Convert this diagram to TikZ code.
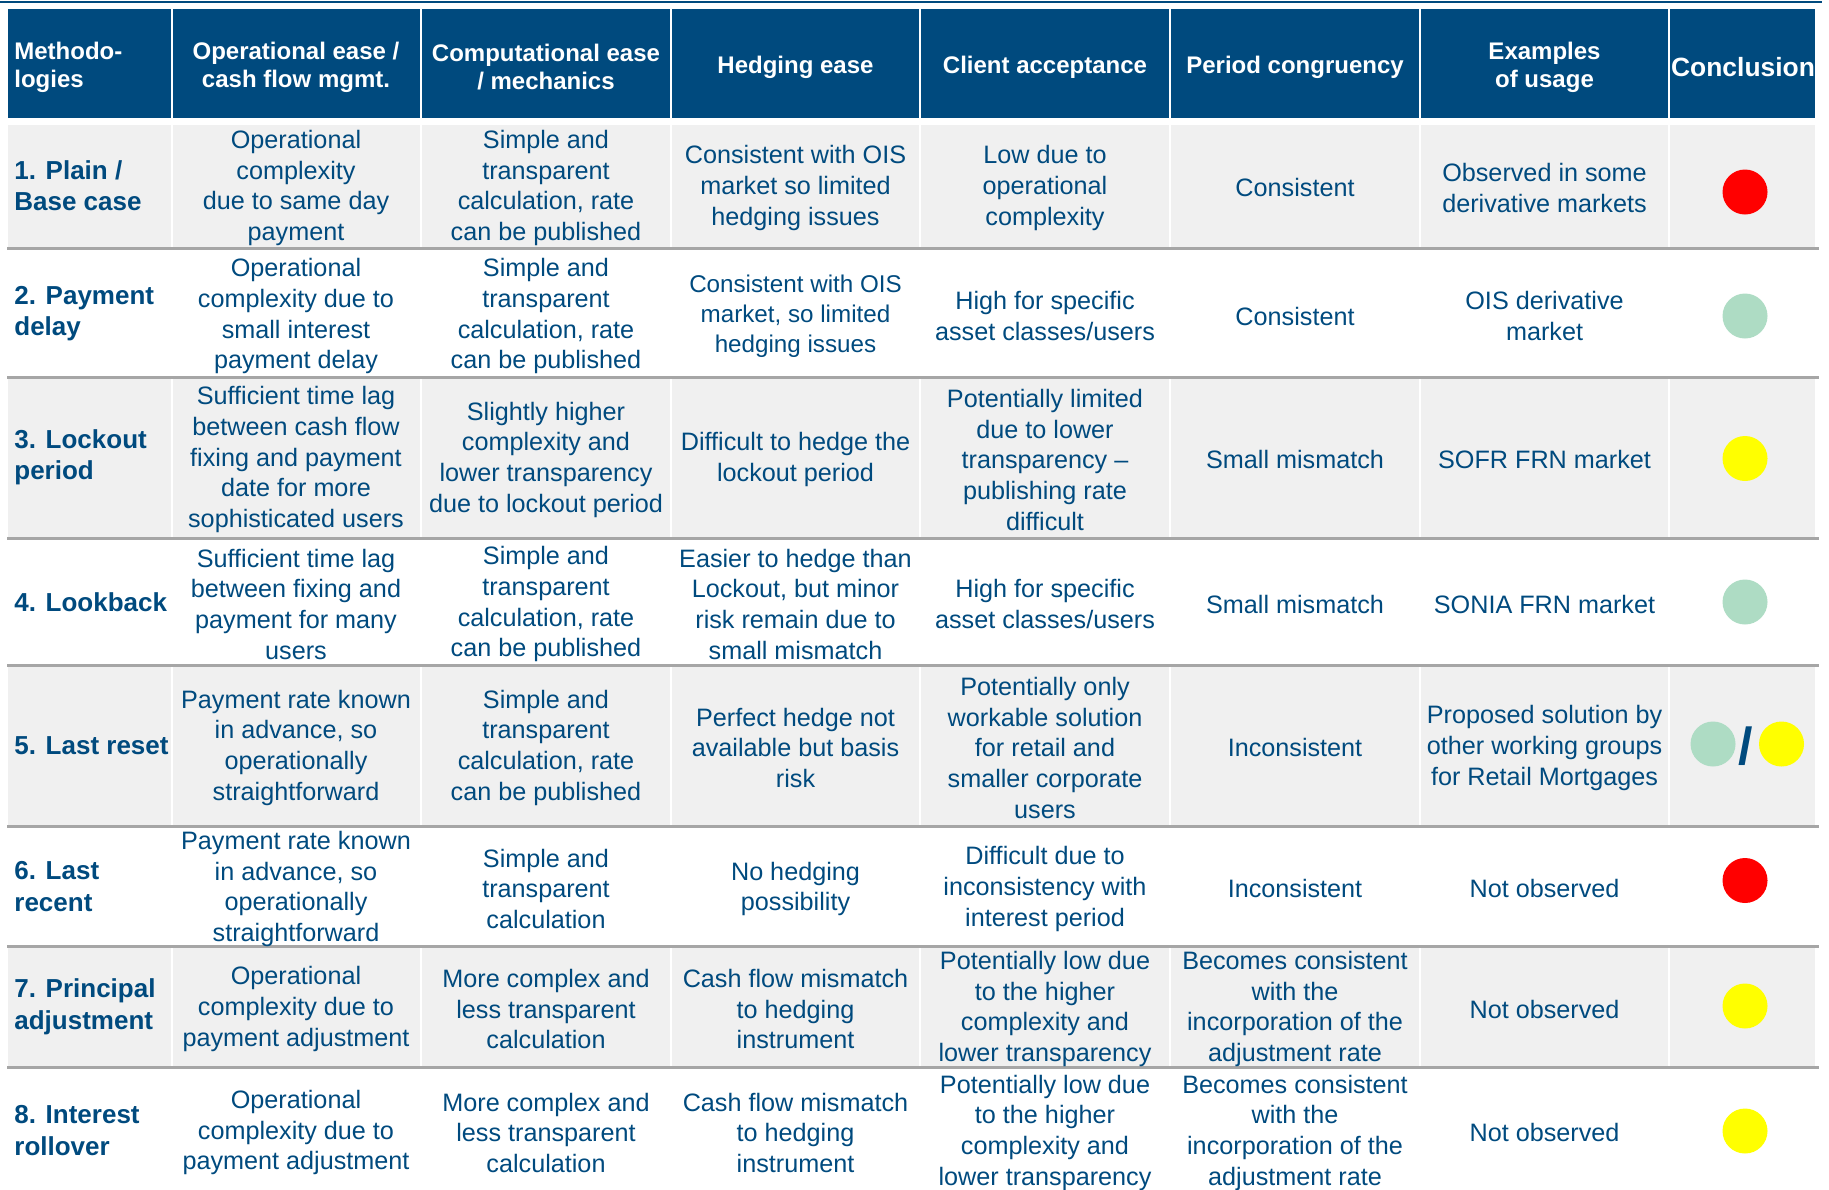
\documentclass[tikz,border=0pt]{standalone}
\usepackage{fontspec}
\setmainfont{Liberation Sans}
\definecolor{tblue}{RGB}{0,74,126}
\definecolor{rowgray}{RGB}{240,240,240}
\definecolor{rulegray}{RGB}{166,166,166}
\definecolor{dotgreen}{RGB}{174,220,196}
\definecolor{dotyellow}{RGB}{255,255,0}
\definecolor{dotred}{RGB}{255,0,0}

\begin{document}
\begin{tikzpicture}[x=0.5pt,y=-0.5pt,
   hdr/.style={text=white,font=\fontsize{12}{14}\selectfont\bfseries,align=center,inner sep=0pt,yshift=-1.7pt},
   cell/.style={text=tblue,font=\fontsize{12.6}{15.35}\selectfont,align=center,inner sep=0pt,yshift=-1.2pt},
   meth/.style={text=tblue,font=\fontsize{13}{15.75}\selectfont\bfseries,align=left,anchor=west,inner sep=0pt},
   dot/.style={circle,minimum size=22.5pt,inner sep=0pt}]
\useasboundingbox (0,0) rectangle (1829,1189);
% top rule and header boxes
\draw[tblue,line width=1pt] (0,2) -- (1822,2);
\foreach \xa/\xb in {7/171.5,171.5/421,421/671,671/920,920/1170,1170/1420,1420/1669,1669/1816}
  \fill[tblue] (\xa+1,9) rectangle (\xb-1,118);
% shaded rows
\foreach \ya/\yb in {125/248.5,377/538,665/826,946/1067}
  \foreach \xa/\xb in {7/171.5,171.5/421,421/671,671/920,920/1170,1170/1420,1420/1669,1669/1816}
    \fill[rowgray] (\xa+1,\ya) rectangle (\xb-1,\yb);
\foreach \y in {248.5,377,538,665,826,946,1067}
  \draw[rulegray,line width=1.5pt] (7,\y) -- (1819,\y);

% header
\node[hdr,align=left,anchor=west] (hmeth) at (14,64) {Methodo-\\logies};
\node[hdr] (hops) at (296,64) {Operational ease /\\cash flow mgmt.};
\node[hdr] (hcomp) at (546,64) {Computational ease\\/ mechanics};
\node[hdr] (hhedge) at (795.5,64) {Hedging ease};
\node[hdr] (hclient) at (1045,64) {Client acceptance};
\node[hdr] (hperiod) at (1295,64) {Period congruency};
\node[hdr] (husage) at (1544.5,64) {Examples\\of usage};
\node[hdr,font=\fontsize{13.2}{15}\selectfont\bfseries] (hconcl) at (1743,64) {Conclusion};

% 1. plain
\node[meth] (m1) at (14,185.5) {1. Plain /\\Base case};
\node[cell] (ops1) at (296,185.5) {Operational\\complexity\\due to same day\\payment};
\node[cell] (comp1) at (546,185.5) {Simple and\\transparent\\calculation, rate\\can be published};
\node[cell] (hedge1) at (795.5,185.5) {Consistent with OIS\\market so limited\\hedging issues};
\node[cell] (client1) at (1045,185.5) {Low due to\\operational\\complexity};
\node[cell] (period1) at (1295,185.5) {Consistent};
\node[cell] (usage1) at (1544.5,185.5) {Observed in some\\derivative markets};
\node[dot,fill=dotred] (concl1) at (1745,192) {};

% 2. payment delay
\node[meth] (m2) at (14,313.8) {2. Payment\\delay};
\node[cell] (ops2) at (296,313.8) {Operational\\complexity due to\\small interest\\payment delay};
\node[cell] (comp2) at (546,313.8) {Simple and\\transparent\\calculation, rate\\can be published};
\node[cell,font=\fontsize{12.1}{15.2}\selectfont] (hedge2) at (795.5,313.8) {Consistent with OIS\\market, so limited\\hedging issues};
\node[cell] (client2) at (1045,313.8) {High for specific\\asset classes/users};
\node[cell] (period2) at (1295,313.8) {Consistent};
\node[cell] (usage2) at (1544.5,313.8) {OIS derivative\\market};
\node[dot,fill=dotgreen] (concl2) at (1745,316) {};

% 3. lockout period
\node[meth] (m3) at (14,457.3) {3. Lockout\\period};
\node[cell] (ops3) at (296,457.3) {Sufficient time lag\\between cash flow\\fixing and payment\\date for more\\sophisticated users};
\node[cell] (comp3) at (546,457.3) {Slightly higher\\complexity and\\lower transparency\\due to lockout period};
\node[cell] (hedge3) at (795.5,457.3) {Difficult to hedge the\\lockout period};
\node[cell] (client3) at (1045,457.3) {Potentially limited\\due to lower\\transparency –\\publishing rate\\difficult};
\node[cell] (period3) at (1295,457.3) {Small mismatch};
\node[cell] (usage3) at (1544.5,457.3) {SOFR FRN market};
\node[dot,fill=dotyellow] (concl3) at (1745,458.5) {};

% 4. lookback
\node[meth] (m4) at (14,601.9) {4. Lookback};
\node[cell] (ops4) at (296,601.9) {Sufficient time lag\\between fixing and\\payment for many\\users};
\node[cell] (comp4) at (546,601.9) {Simple and\\transparent\\calculation, rate\\can be published};
\node[cell] (hedge4) at (795.5,601.9) {Easier to hedge than\\Lockout, but minor\\risk remain due to\\small mismatch};
\node[cell] (client4) at (1045,601.9) {High for specific\\asset classes/users};
\node[cell] (period4) at (1295,601.9) {Small mismatch};
\node[cell] (usage4) at (1544.5,601.9) {SONIA FRN market};
\node[dot,fill=dotgreen] (concl4) at (1745,602) {};

% 5. last reset
\node[meth] (m5) at (14,745.4) {5. Last reset};
\node[cell] (ops5) at (296,745.4) {Payment rate known\\in advance, so\\operationally\\straightforward};
\node[cell] (comp5) at (546,745.4) {Simple and\\transparent\\calculation, rate\\can be published};
\node[cell] (hedge5) at (795.5,745.4) {Perfect hedge not\\available but basis\\risk};
\node[cell] (client5) at (1045,745.4) {Potentially only\\workable solution\\for retail and\\smaller corporate\\users};
\node[cell] (period5) at (1295,745.4) {Inconsistent};
\node[cell] (usage5) at (1544.5,745.4) {Proposed solution by\\other working groups\\for Retail Mortgages};
\node[dot,fill=dotgreen] (concl5a) at (1713,744) {};
\node[dot,fill=dotyellow] (concl5b) at (1781.5,744) {};
\node[text=tblue,font=\fontsize{26}{26}\selectfont\bfseries,inner sep=0pt] (slash5) at (1745.5,746) {/};

% 6. last recent
\node[meth] (m6) at (14,886.5) {6. Last\\recent};
\node[cell] (ops6) at (296,886.5) {Payment rate known\\in advance, so\\operationally\\straightforward};
\node[cell] (comp6) at (546,886.5) {Simple and\\transparent\\calculation};
\node[cell] (hedge6) at (795.5,886.5) {No hedging\\possibility};
\node[cell] (client6) at (1045,886.5) {Difficult due to\\inconsistency with\\interest period};
\node[cell] (period6) at (1295,886.5) {Inconsistent};
\node[cell] (usage6) at (1544.5,886.5) {Not observed};
\node[dot,fill=dotred] (concl6) at (1745,880.5) {};

% 7. principal adjustment
\node[meth] (m7) at (14,1006.7) {7. Principal\\adjustment};
\node[cell] (ops7) at (296,1006.7) {Operational\\complexity due to\\payment adjustment};
\node[cell] (comp7) at (546,1006.7) {More complex and\\less transparent\\calculation};
\node[cell] (hedge7) at (795.5,1006.7) {Cash flow mismatch\\to hedging\\instrument};
\node[cell] (client7) at (1045,1006.7) {Potentially low due\\to the higher\\complexity and\\lower transparency};
\node[cell] (period7) at (1295,1006.7) {Becomes consistent\\with the\\incorporation of the\\adjustment rate};
\node[cell] (usage7) at (1544.5,1006.7) {Not observed};
\node[dot,fill=dotyellow] (concl7) at (1745,1006) {};

% 8. interest rollover
\node[meth] (m8) at (14,1130.3) {8. Interest\\rollover};
\node[cell] (ops8) at (296,1130.3) {Operational\\complexity due to\\payment adjustment};
\node[cell] (comp8) at (546,1130.3) {More complex and\\less transparent\\calculation};
\node[cell] (hedge8) at (795.5,1130.3) {Cash flow mismatch\\to hedging\\instrument};
\node[cell] (client8) at (1045,1130.3) {Potentially low due\\to the higher\\complexity and\\lower transparency};
\node[cell] (period8) at (1295,1130.3) {Becomes consistent\\with the\\incorporation of the\\adjustment rate};
\node[cell] (usage8) at (1544.5,1130.3) {Not observed};
\node[dot,fill=dotyellow] (concl8) at (1745,1131) {};
\end{tikzpicture}
\end{document}
